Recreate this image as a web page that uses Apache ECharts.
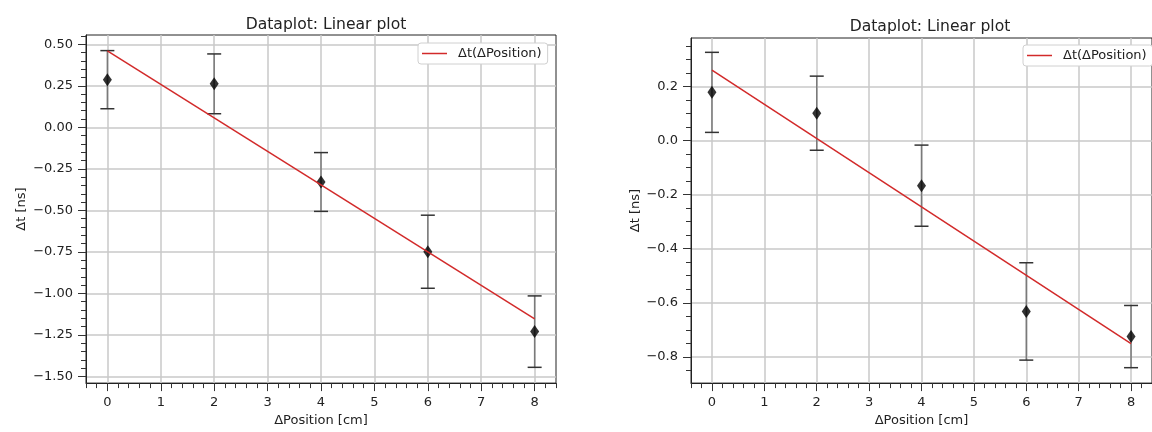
<!DOCTYPE html>
<html>
<head>
<meta charset="utf-8">
<script src="https://cdn.jsdelivr.net/npm/echarts@6/dist/echarts.min.js"></script>
<style>
  html, body { margin: 0; padding: 0; background: #fff; }
  #chart { width: 1152px; height: 432px; }
</style>
</head>
<body>
<div id="chart"></div>
<script>
// measured points, both panels share the same positions
const positions = [0, 2, 4, 6, 8];
const leftDt = [0.287, 0.262, -0.329, -0.749, -1.230];
const leftErr = [0.175, 0.180, 0.177, 0.220, 0.215];
const rightDt = [0.178, 0.101, -0.167, -0.632, -0.725];
const rightErr = [0.148, 0.137, 0.150, 0.180, 0.115];

// fitted line endpoints
const fitX = [0, 8];
const leftFit = [0.460, -1.153];
const rightFit = [0.260, -0.751];

// tick labels
const xTicks = [0, 1, 2, 3, 4, 5, 6, 7, 8];
const leftYTicks = [-1.5, -1.25, -1.0, -0.75, -0.5, -0.25, 0, 0.25, 0.5];
const rightYTicks = [-0.8, -0.6, -0.4, -0.2, 0, 0.2];

const titleText = 'Dataplot: Linear plot';
const legendName = 'Δt(ΔPosition)';
const xName = 'ΔPosition [cm]';
const yName = 'Δt [ns]';

const FONT = 'DejaVu Sans';
const TXT = '#222';

function steps(a, b, s) {
  const out = [];
  for (let v = a; v <= b + 1e-9; v += s) out.push(Math.round(v * 1000) / 1000);
  return out;
}
const xMinor = steps(-0.4, 8.4, 0.2);
const leftYMinor = steps(-1.5, 0.55, 0.05);
const rightYMinor = steps(-0.85, 0.35, 0.05);

const fmtMinus = (d) => (v) => Number(v).toFixed(d).replace('-', '\u2212');

function zip2(a, b) { return a.map((v, i) => [v, b[i]]); }
function zip3(a, b, c) { return a.map((v, i) => [v, b[i], c[i]]); }

function errorBars(params, api) {
  const x = api.value(0), y = api.value(1), e = api.value(2);
  const top = api.coord([x, y + e]);
  const bot = api.coord([x, y - e]);
  const cap = 7;
  return {
    type: 'group',
    children: [
      { type: 'line', shape: { x1: top[0], y1: top[1], x2: bot[0], y2: bot[1] }, style: { stroke: '#7a7a7a', lineWidth: 1.5 } },
      { type: 'line', shape: { x1: top[0] - cap, y1: top[1], x2: top[0] + cap, y2: top[1] }, style: { stroke: '#333', lineWidth: 1.5 } },
      { type: 'line', shape: { x1: bot[0] - cap, y1: bot[1], x2: bot[0] + cap, y2: bot[1] }, style: { stroke: '#333', lineWidth: 1.5 } }
    ]
  };
}

function mainX(grid, gap) {
  return {
    type: 'value', gridIndex: grid, min: -0.4, max: 8.4,
    name: xName, nameLocation: 'middle', nameGap: gap,
    nameTextStyle: { fontFamily: FONT, fontSize: 13, color: TXT },
    axisLine: { show: true, onZero: false, lineStyle: { color: '#222', width: 1 } },
    axisTick: { show: true, length: 8, customValues: xTicks, lineStyle: { color: '#333', width: 1 } },
    axisLabel: { customValues: xTicks, margin: 13, fontFamily: FONT, fontSize: 13, color: TXT },
    splitLine: { show: true, lineStyle: { color: '#c8c8c8', width: 1.5 } }
  };
}
function minorX(grid) {
  return {
    type: 'value', gridIndex: grid, min: -0.4, max: 8.4, position: 'bottom',
    axisLine: { show: false, onZero: false },
    axisTick: { show: true, length: 5, customValues: xMinor, lineStyle: { color: '#333', width: 1 } },
    axisLabel: { show: false },
    splitLine: { show: false }
  };
}
function mainY(grid, min, max, ticks, dec, gap) {
  return {
    type: 'value', gridIndex: grid, min: min, max: max,
    name: yName, nameLocation: 'middle', nameGap: gap,
    nameTextStyle: { fontFamily: FONT, fontSize: 13, color: TXT },
    axisLine: { show: true, onZero: false, lineStyle: { color: '#222', width: 1 } },
    axisTick: { show: true, length: 8, customValues: ticks, lineStyle: { color: '#333', width: 1 } },
    axisLabel: { customValues: ticks, margin: 13, formatter: fmtMinus(dec), fontFamily: FONT, fontSize: 13, color: TXT },
    splitLine: { show: true, lineStyle: { color: '#c8c8c8', width: 1.5 } }
  };
}
function minorY(grid, min, max, ticks) {
  return {
    type: 'value', gridIndex: grid, min: min, max: max, position: 'left',
    axisLine: { show: false, onZero: false },
    axisTick: { show: true, length: 5, customValues: ticks, lineStyle: { color: '#333', width: 1 } },
    axisLabel: { show: false },
    splitLine: { show: false }
  };
}

function legendFor(left, top) {
  return {
    data: [legendName], left: left, top: top, orient: 'vertical',
    icon: 'rect', itemWidth: 25, itemHeight: 1.5,
    padding: [4, 6, 4, 4],
    backgroundColor: '#fff', borderColor: '#d0d0d0', borderWidth: 1, borderRadius: 3,
    textStyle: { fontFamily: FONT, fontSize: 13, color: TXT, padding: [0, 0, 0, 6] }
  };
}

function seriesFor(grid, dt, err, fit) {
  return [
    {
      type: 'custom', xAxisIndex: grid, yAxisIndex: grid, z: 1,
      renderItem: errorBars, encode: { x: 0, y: 1 },
      data: zip3(positions, dt, err)
    },
    {
      type: 'scatter', xAxisIndex: grid, yAxisIndex: grid, z: 2,
      symbol: 'diamond', symbolSize: [9, 13],
      itemStyle: { color: '#000' },
      data: zip2(positions, dt)
    },
    {
      name: legendName, type: 'line', xAxisIndex: grid, yAxisIndex: grid, z: 3,
      symbol: 'none', lineStyle: { color: '#d22a2a', width: 1.5 },
      itemStyle: { color: '#d22a2a' },
      data: zip2(fitX, fit)
    }
  ];
}

const chart = echarts.init(document.getElementById('chart'));
chart.setOption({
  animation: false,
  backgroundColor: '#fff',
  title: [
    { text: titleText, left: 321, top: 12, textAlign: 'center', textStyle: { fontFamily: FONT, fontSize: 15.6, fontWeight: 'normal', color: TXT } },
    { text: titleText, left: 925, top: 14, textAlign: 'center', textStyle: { fontFamily: FONT, fontSize: 15.6, fontWeight: 'normal', color: TXT } }
  ],
  legend: [legendFor(418, 43), legendFor(1023, 45)],
  grid: [
    { left: 86, top: 35, width: 470, height: 350, show: true, borderColor: '#222', borderWidth: 1, backgroundColor: 'transparent' },
    { left: 691, top: 38, width: 469, height: 349, show: true, borderColor: '#222', borderWidth: 1, backgroundColor: 'transparent' }
  ],
  xAxis: [mainX(0, 30), mainX(1, 30), minorX(0), minorX(1)],
  yAxis: [
    mainY(0, -1.54, 0.556, leftYTicks, 2, 58),
    mainY(1, -0.897, 0.379, rightYTicks, 1, 48),
    minorY(0, -1.54, 0.556, leftYMinor),
    minorY(1, -0.897, 0.379, rightYMinor)
  ],
  series: [].concat(
    seriesFor(0, leftDt, leftErr, leftFit),
    seriesFor(1, rightDt, rightErr, rightFit)
  )
});
</script>
</body>
</html>
